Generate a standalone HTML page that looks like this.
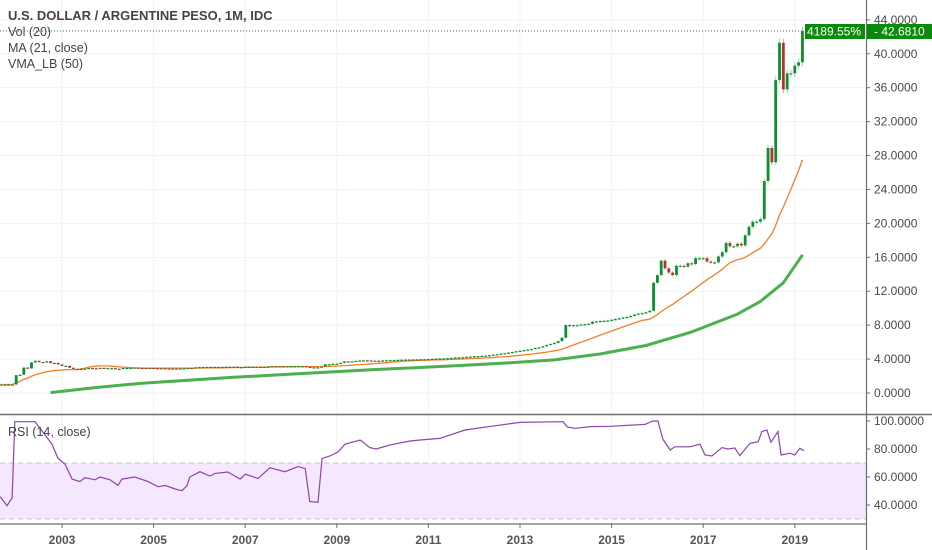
<!DOCTYPE html>
<html><head><meta charset="utf-8">
<style>
html,body{margin:0;padding:0;background:#fff;}
body{width:932px;height:550px;overflow:hidden;font-family:"Liberation Sans",sans-serif;position:relative;}
svg{position:absolute;left:0;top:0;}
</style></head>
<body>
<svg id="chart" width="932" height="550" viewBox="0 0 932 550" xmlns="http://www.w3.org/2000/svg"></svg>
<script>
// ---- data ----
const startYear = 2001 + 8/12; // Sep 2001
const closes = [1,1,1,1,
2.1,2.15,3.0,2.9,3.6,3.8,3.65,3.6,3.74,3.52,3.55,3.37,
3.2,3.2,2.98,2.84,2.85,2.8,2.88,2.95,2.91,2.86,2.97,2.93,
2.93,2.93,2.86,2.84,2.96,2.96,2.97,3.0,2.98,2.97,2.96,2.97,
2.93,2.92,2.92,2.9,2.89,2.89,2.86,2.9,2.91,2.97,2.96,3.03,
3.06,3.07,3.08,3.05,3.08,3.08,3.08,3.10,3.1,3.1,3.06,3.06,
3.1,3.1,3.1,3.09,3.08,3.09,3.10,3.16,3.15,3.16,3.14,3.15,
3.16,3.16,3.17,3.17,3.08,3.02,3.03,3.03,3.12,3.38,3.39,3.45,
3.46,3.55,3.72,3.7,3.73,3.79,3.83,3.85,3.84,3.8,3.81,3.8,
3.84,3.86,3.87,3.88,3.91,3.93,3.94,3.95,3.96,3.96,3.98,3.97,
4.0,4.03,4.05,4.08,4.08,4.11,4.13,4.19,4.2,4.22,4.27,4.3,
4.34,4.34,4.38,4.41,4.46,4.52,4.57,4.63,4.69,4.76,4.83,4.92,
4.98,5.05,5.12,5.18,5.32,5.38,5.51,5.67,5.79,5.9,6.11,6.52,
8.02,7.88,8.0,8.0,8.08,8.13,8.16,8.41,8.43,8.5,8.52,8.55,
8.64,8.72,8.8,8.9,8.97,9.08,9.24,9.36,9.42,9.52,9.7,13.0,
13.9,15.6,14.7,14.2,13.9,15.0,15.0,14.9,15.3,15.2,15.9,15.9,
15.9,15.5,15.4,15.4,16.1,16.6,17.7,17.3,17.3,17.6,17.4,18.6,
19.6,20.2,20.2,20.5,25.0,28.9,27.2,36.9,41.3,35.8,37.7,37.7,
38.6,39.0,42.68];
const vmaT = [2002.75,2003.75,2004.75,2005.75,2006.75,2007.75,2008.75,2009.75,2010.75,2011.75,2012.75,2013.75,2014.75,2015.75,2016.75,2017.75,2018.25,2018.75,2019.17];
const vmaV = [0.05,0.65,1.15,1.5,1.85,2.15,2.45,2.75,3.0,3.25,3.55,3.9,4.6,5.6,7.2,9.3,10.8,13.0,16.3];
const rsiT = [2001.65,2001.80,2001.91,2001.97,2002.41,2002.63,2002.78,2002.91,2003.07,2003.22,2003.39,2003.50,2003.72,2003.83,2004.05,2004.22,2004.31,2004.59,2004.88,2005.10,2005.25,2005.47,2005.62,2005.73,2005.79,2006.01,2006.23,2006.34,2006.62,2006.89,2007.00,2007.28,2007.54,2007.87,2008.15,2008.31,2008.41,2008.59,2008.68,2008.85,2009.03,2009.18,2009.51,2009.72,2009.86,2010.16,2010.60,2010.82,2011.25,2011.80,2012.45,2013.00,2013.94,2014.03,2014.20,2014.53,2014.97,2015.73,2015.90,2016.01,2016.12,2016.28,2016.38,2016.71,2016.93,2017.04,2017.19,2017.41,2017.54,2017.69,2017.80,2018.02,2018.20,2018.28,2018.39,2018.48,2018.63,2018.70,2018.90,2019.00,2019.11,2019.20];
const rsiV = [46,39.5,45,99.5,99.5,90,83.5,73.5,69,58.5,56.7,59.5,58,60,58,54,58.5,60,56.7,53,54,51.4,50.2,53.8,60,63.8,60.7,62.6,63.6,58.5,62,59,66.6,63.8,67.4,66,42.4,42,73.3,75,78,83.4,86.4,81,80,82.9,85.7,86.4,87.6,93.6,96.6,99,99.5,95.7,94.8,96,96.2,97.6,100,100,87,79.3,81.6,81.6,83.4,75.7,75,81,80,80.7,75.3,84,85.2,92.4,93.6,84.8,92.4,75.7,77,75.7,80.5,78.8];
const priceTicks = [0,4,8,12,16,20,24,28,32,36,40,44];
const rsiTicks = [40,60,80,100];
const yearTicks = [2003,2005,2007,2009,2011,2013,2015,2017,2019];
const lastLabel = "42.6810";
const pctLabel = "4189.55%";

// ---- axes ----
const xOf = y => 62 + (y - 2003) * 45.8;
const yP = v => 393 - v * 8.48;
const yR = v => 421 + (100 - v) * 1.4;
const NS = "http://www.w3.org/2000/svg";
const svg = document.getElementById('chart');
function mk(tag, attrs, parent){const e=document.createElementNS(NS,tag);for(const k in attrs)e.setAttribute(k,attrs[k]);(parent||svg).appendChild(e);return e;}

// grid
yearTicks.forEach(y=>{
  let l=mk('line',{x1:xOf(y),x2:xOf(y),y1:0,y2:524,stroke:'#f0f2f6','stroke-width':1});
  
  
});
priceTicks.forEach(v=>{
  let l=mk('line',{x1:0,x2:866,y1:yP(v),y2:yP(v),stroke:'#f0f2f6','stroke-width':1});
  
  
});
// RSI band
let band=mk('rect',{x:0,y:yR(70),width:866,height:yR(30)-yR(70),fill:'#f3e8fd'});


[70,30].forEach(v=>{
  let l=mk('line',{x1:0,x2:866,y1:yR(v),y2:yR(v),stroke:'#c8c2cc','stroke-dasharray':'5,4','stroke-width':1});
  
  
});
// panel borders
let sep=mk('line',{x1:0,x2:932,y1:414.5,y2:414.5,stroke:'#6f6f6f','stroke-width':1.5});


let bot=mk('line',{x1:0,x2:866,y1:524,y2:524,stroke:'#6f6f6f','stroke-width':1.2});


let rax=mk('line',{x1:866.5,x2:866.5,y1:0,y2:550,stroke:'#6f6f6f','stroke-width':1.2});



// dotted last-price line
let dl=mk('line',{x1:0,x2:802,y1:31,y2:31,stroke:'#1a8a1a','stroke-dasharray':'1,2','stroke-width':1});



// VMA
let vp=vmaT.map((t,i)=>(i?'L':'M')+xOf(t).toFixed(1)+','+yP(vmaV[i]).toFixed(1)).join('');
let vma=mk('path',{d:vp,fill:'none',stroke:'#4caf50','stroke-width':3,'stroke-linejoin':'round'});


// MA21
let ma=[];
for(let i=0;i<closes.length;i++){let s=0,n=0;for(let j=Math.max(0,i-20);j<=i;j++){s+=closes[j];n++;}ma.push(s/n);}
let mp=ma.map((v,i)=>(i?'L':'M')+xOf(startYear+i/12).toFixed(1)+','+yP(v).toFixed(1)).join('');
let mal=mk('path',{d:mp,fill:'none',stroke:'#f57f26','stroke-width':1.3});



// candles
closes.forEach((c,i)=>{
  const o=i?closes[i-1]:c;
  const x=xOf(startYear+i/12);
  const up=c>=o;
  const col=up?'#0c8f2c':'#b23232';
  const hi=Math.max(o,c)*1.012, lo=Math.min(o,c)*0.988;
  let w=mk('line',{x1:x,x2:x,y1:yP(hi),y2:yP(lo),stroke:up?'#9fd8ab':'#e0a0a0','stroke-width':1});
  
  
  const top=yP(Math.max(o,c)), h=Math.max(1.2,yP(Math.min(o,c))-top);
  let b=mk('rect',{x:x-1.4,y:top,width:2.8,height:h,fill:col});
  
  
});

// RSI line
let rp=rsiT.map((t,i)=>(i?'L':'M')+xOf(t).toFixed(1)+','+yR(rsiV[i]).toFixed(1)).join('');
let rl=mk('path',{d:rp,fill:'none',stroke:'#8e44ad','stroke-width':1.2});



// axis labels
priceTicks.forEach(v=>{
  let t=mk('text',{x:874,y:yP(v)+4,'font-size':12,fill:'#4a4a4a'});
  t.textContent=v.toFixed(4);
  
  
  let k=mk('line',{x1:866,x2:870,y1:yP(v),y2:yP(v),stroke:'#6f6f6f'});
  
  
});
rsiTicks.forEach(v=>{
  let t=mk('text',{x:874,y:yR(v)+4,'font-size':12,fill:'#4a4a4a'});
  t.textContent=v.toFixed(4);
  
  
  let k=mk('line',{x1:866,x2:870,y1:yR(v),y2:yR(v),stroke:'#6f6f6f'});
  
  
});
yearTicks.forEach(y=>{
  let t=mk('text',{x:xOf(y),y:544,'font-size':12,'font-weight':'bold',fill:'#555','text-anchor':'middle'});
  t.textContent=y;
  
  
  let k=mk('line',{x1:xOf(y),x2:xOf(y),y1:524,y2:528,stroke:'#6f6f6f'});
  
  
});

// last price labels
let pb=mk('rect',{x:805,y:24,width:60,height:15,fill:'#0a8a0a'});


let pt=mk('text',{x:861,y:35.5,'font-size':12,fill:'#fff','text-anchor':'end'});
pt.textContent=pctLabel;


let lb=mk('rect',{x:867,y:24,width:65,height:15,fill:'#0a8a0a'});


let lt=mk('text',{x:874,y:35.5,'font-size':12,fill:'#fff'});
lt.textContent='- '+lastLabel;



// legend texts
const legend=[["U.S. DOLLAR / ARGENTINE PESO, 1M, IDC",20,'bold','chart-title'],["Vol (20)",36,'normal','volume-legend'],["MA (21, close)",52,'normal','ma-legend'],["VMA_LB (50)",68,'normal','vma-legend']];
legend.forEach(([s,y,w,n])=>{
  let t=mk('text',{x:8,y:y,'font-size':w==='bold'?13:12.5,'font-weight':w,fill:'#444'});
  t.textContent=s;
  
  
});
let rt=mk('text',{x:8,y:436,'font-size':12.5,fill:'#444'});
rt.textContent='RSI (14, close)';


</script>
</body></html>
